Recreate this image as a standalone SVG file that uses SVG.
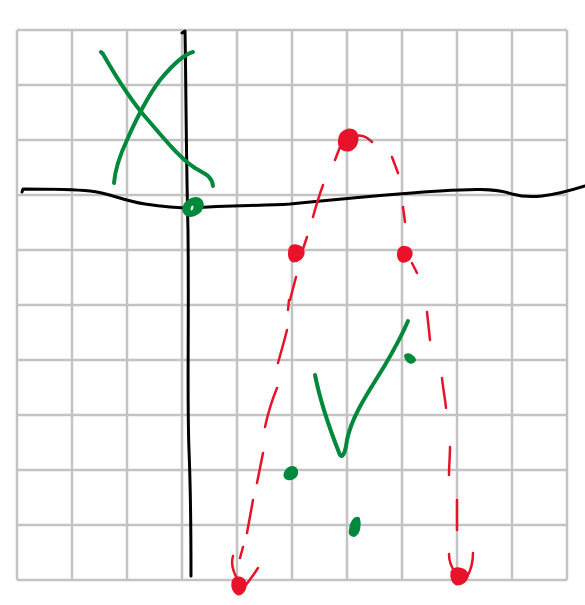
<svg xmlns="http://www.w3.org/2000/svg" width="585" height="605" viewBox="0 0 585 605">
<style>
.grid{stroke:#c3c3c3;stroke-width:2.5;fill:none}
.ax{stroke:#000;stroke-width:3;fill:none;stroke-linecap:round;stroke-linejoin:round}
.g{stroke:#00893a;stroke-width:4;fill:none;stroke-linecap:round;stroke-linejoin:round}
.gf{fill:#00893a;stroke:#00893a;stroke-width:4;stroke-linejoin:round}
.r{stroke:#e8132b;stroke-width:2.5;fill:none;stroke-linecap:round;stroke-linejoin:round}
.rf{fill:#e8132b;stroke:#e8132b;stroke-width:3;stroke-linejoin:round}
</style>
<rect width="585" height="605" fill="#fff"/>
<g id="grid" class="grid">
<path d="M17 30V580M72 30V580M127 30V580M182 30V580M237 30V580M292 30V580M347 30V580M402 30V580M457 30V580M512 30V580M567 30V580"/>
<path d="M17 30H567M17 85H567M17 140H567M17 195H567M17 250H567M17 305H567M17 360H567M17 415H567M17 470H567M17 525H567M17 580H567"/>
</g>
<g id="axes" class="ax">
<path d="M22 192 L23 189 C45 189 70 189 90 191 C110 193 120 200 145 204 C165 207 180 208 192 208 C230 205 260 206 290 204 C340 199 390 194 440 191 C470 189 495 188 512 194 C530 199 550 197 585 186"/>
<path d="M182 33 L185 31 C186 80 186 150 188 230 C189 330 187 400 189 450 C191 500 191 540 191 576"/>
</g>
<g id="cross" class="g">
<path d="M101 52 L103 54 C115 75 130 100 148 120 C165 140 180 158 195 168 C205 174 212 176 213 186"/>
<path d="M193 52 C185 54 175 62 160 80 C148 96 138 115 127 140 C120 155 115 170 114 183"/>
</g>
<g id="origin">
<ellipse cx="193" cy="207" rx="9" ry="6.5" transform="rotate(-35 193 207)" fill="#00893a" stroke="#00893a" stroke-width="5"/>
<ellipse cx="192" cy="208" rx="1.2" ry="2.5" transform="rotate(20 192 208)" fill="#fff"/>
</g>
<g id="curves" class="r">
<path d="M340 147 L335 160 M323 185 C319 196 316 206 313 217 M307 237 L302 252 M296 277 L290 300 M289 300 L288 310 M287 330 C284 342 281 352 278 363 M277 388 C272 400 268 413 265 427 M263 453 C261 463 259 473 257 483 M253 500 C251 511 249 522 247 533 M243 547 L240 558"/>
<path d="M233 556 C231 563 233 572 238 580 M258 568 C254 574 250 580 245 586"/>
<path d="M356 136 C363 134 368 138 372 142 M392 157 L398 173 M403 207 L405 222 M412 263 L417 273 M427 312 C428 322 429 331 430 340 M442 378 C443 388 445 398 446 408 M450 447 C450 456 449 466 449 475 M457 500 L457 530"/>
<path d="M449 554 C449 562 452 568 455 572 M473 553 C473 562 471 570 467 577"/>
</g>
<g id="points">
<path class="rf" d="M340 138 C341 131 350 128 355 132 C359 137 357 148 349 150 C341 151 338 145 340 138 Z"/>
<path class="rf" d="M290 249 C292 244 301 245 303 251 C304 257 298 261 293 261 C289 259 289 254 290 249 Z"/>
<path class="rf" d="M399 251 C401 246 409 246 411 252 C412 258 407 262 402 261 C398 259 398 255 399 251 Z"/>
<path class="rf" d="M233 582 C235 576 243 577 245 583 C246 589 242 594 238 594 C234 592 232 587 233 582 Z"/>
<path class="rf" d="M452 572 C455 567 464 568 467 574 C468 580 462 584 457 584 C453 583 451 577 452 572 Z"/>
</g>
<g id="check" class="g">
<path d="M315 375 C320 400 330 430 340 455 C342 458 345 455 347 440 C352 415 370 390 385 365 C395 348 402 335 408 321"/>
</g>
<g id="marks">
<path class="gf" d="M406 356 C409 354 413 357 414 360 C412 363 408 362 406 356 Z"/>
<path class="gf" d="M286 473 C288 468 294 466 296 471 C297 476 292 479 288 478 C285 477 285 475 286 473 Z"/>
<path class="gf" d="M351 530 C351 524 355 518 358 519 C360 525 358 533 354 535 C351 535 350 533 351 530 Z"/>
</g>
</svg>
